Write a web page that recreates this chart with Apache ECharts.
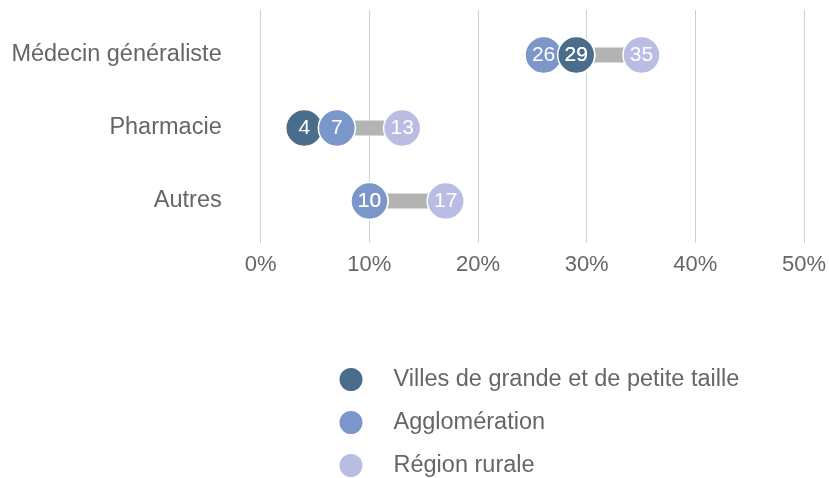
<!DOCTYPE html>
<html lang="fr">
<head>
    <meta charset="UTF-8">
    <title>Dumbbell</title>
    <script src="https://cdn.jsdelivr.net/npm/echarts@6/dist/echarts.min.js"></script>
    <style>
        html, body { margin: 0; padding: 0; background: #fff; }
        #chart { width: 829px; height: 478px; }
    </style>
</head>
<body>
    <div id="chart"></div>
    <script>
        // données
        var categories = ['Médecin généraliste', 'Pharmacie', 'Autres'];
        var villes = [29, 4, 10];
        var agglo = [26, 7, 10];
        var rurale = [35, 13, 17];
        var xTicks = [0, 10, 20, 30, 40, 50];

        var nomVilles = 'Villes de grande et de petite taille';
        var nomAgglo = 'Agglomération';
        var nomRurale = 'Région rurale';

        var font = "'Liberation Sans', Arial, sans-serif";
        var left = 260.7, right = 24.3;

        function points(arr) {
            return arr.map(function (v, i) { return [v, i]; });
        }

        // barre grise entre min et max
        var barData = categories.map(function (c, i) {
            return [Math.min(villes[i], agglo[i], rurale[i]), Math.max(villes[i], agglo[i], rurale[i]), i];
        });

        // villes au-dessus de l'agglomération quand la valeur est plus grande
        var villesHaut = villes.map(function (v, i) { return v > agglo[i] ? [v, i] : null; })
            .filter(function (p) { return p; });

        function dots(name, data, color) {
            return {
                name: name,
                type: 'scatter',
                xAxisIndex: 1,
                yAxisIndex: 1,
                data: data,
                symbol: 'circle',
                symbolSize: 37,
                itemStyle: { color: color, borderColor: '#fff', borderWidth: 1.5, opacity: 1 },
                label: {
                    show: true,
                    position: 'inside',
                    color: '#fff',
                    fontSize: 21,
                    fontFamily: font,
                    formatter: function (p) { return p.value[0]; }
                },
                emphasis: { disabled: true }
            };
        }

        var chart = echarts.init(document.getElementById('chart'));
        chart.setOption({
            animation: false,
            color: ['#4a6d8c', '#7b96c8', '#b9bde3'],
            legend: {
                data: [nomVilles, nomAgglo, nomRurale],
                orient: 'vertical',
                left: 337.5,
                top: 366,
                height: 200,
                padding: 0,
                icon: 'circle',
                itemWidth: 25,
                itemHeight: 25,
                itemGap: 16,
                textStyle: { fontSize: 23.5, lineHeight: 25, color: '#666', fontFamily: font, padding: [0, 0, 0, 25] }
            },
            grid: [
                { left: left, right: right, top: 10, height: 233 },
                { left: left, right: right, top: 18.5, height: 219 }
            ],
            xAxis: [
                {
                    gridIndex: 0, type: 'value', min: xTicks[0], max: xTicks[xTicks.length - 1], interval: 10,
                    axisLine: { show: false }, axisTick: { show: false },
                    splitLine: { lineStyle: { color: '#d0d0d0', width: 1 } },
                    axisLabel: { formatter: '{value}%', fontSize: 22, color: '#666', fontFamily: font, margin: 11 }
                },
                {
                    gridIndex: 1, type: 'value', min: xTicks[0], max: xTicks[xTicks.length - 1],
                    show: false, splitLine: { show: false }
                }
            ],
            yAxis: [
                { gridIndex: 0, type: 'value', show: false, splitLine: { show: false } },
                {
                    gridIndex: 1, type: 'category', data: categories, inverse: true,
                    axisLine: { show: false }, axisTick: { show: false }, splitLine: { show: false },
                    axisLabel: { fontSize: 23.5, color: '#666', fontFamily: font, margin: 39 }
                }
            ],
            series: [
                {
                    type: 'custom',
                    xAxisIndex: 1,
                    yAxisIndex: 1,
                    data: barData,
                    encode: { x: [0, 1], y: 2 },
                    renderItem: function (params, api) {
                        var a = api.coord([api.value(0), api.value(2)]);
                        var b = api.coord([api.value(1), api.value(2)]);
                        var h = 15;
                        return {
                            type: 'rect',
                            shape: { x: a[0], y: a[1] - h / 2, width: b[0] - a[0], height: h },
                            style: { fill: '#b3b3b3' }
                        };
                    },
                    silent: true
                },
                dots(nomVilles, points(villes), '#4a6d8c'),
                dots(nomAgglo, points(agglo), '#7b96c8'),
                dots(nomRurale, points(rurale), '#b9bde3'),
                dots(nomVilles, villesHaut, '#4a6d8c')
            ]
        });
    </script>
</body>
</html>
